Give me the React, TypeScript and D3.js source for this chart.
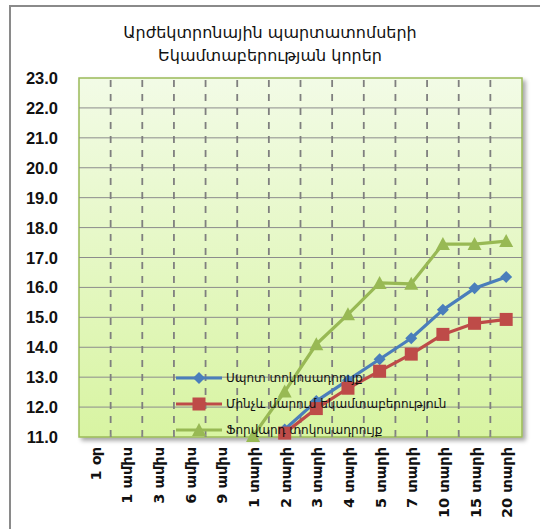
import React from "react";
import * as d3 from "d3";

const categories = ["1 օր", "1 ամիս", "3 ամիս", "6 ամիս", "9 ամիս", "1 տարի", "2 տարի", "3 տարի", "4 տարի", "5 տարի", "7 տարի", "10 տարի", "15 տարի", "20 տարի"];
const yTicks = [11, 12, 13, 14, 15, 16, 17, 18, 19, 20, 21, 22, 23];

// values below the axis minimum are not shown in the reference, so only later maturities are listed
const spot = [null, null, null, null, null, null, 11.25, 12.2, 12.9, 13.6, 14.3, 15.25, 15.97, 16.35];
const ytm = [null, null, null, null, null, null, 11.13, 11.95, 12.63, 13.2, 13.77, 14.43, 14.8, 14.93];
const forward = [null, null, null, null, null, 11.03, 12.52, 14.1, 15.1, 16.15, 16.12, 17.45, 17.45, 17.55];

const seriesNames = ["Սպոտ տոկոսադրույք", "Մինչև մարում եկամտաբերություն", "Ֆորվարդ տոկոսադրույք"];
const seriesColors = ["#4a7ebb", "#be4b48", "#98b954"];

const W = 540, H = 529;
const left = 79, right = 522, top = 78, bottom = 437;
const font = "'DejaVu Sans', sans-serif";

const Marker = ({ kind, x, y, color }) => {
  if (kind === 0) {
    const s = 6;
    return <path d={`M${x},${y - s} L${x + s},${y} L${x},${y + s} L${x - s},${y} Z`} fill={color} />;
  }
  if (kind === 1) {
    return <rect x={x - 6.5} y={y - 6.5} width={13} height={13} fill={color} />;
  }
  return <path d={`M${x},${y - 7} L${x + 7},${y + 6} L${x - 7},${y + 6} Z`} fill={color} />;
};

const App = () => {
  const x = d3.scaleBand().domain(categories).range([left, right]);
  const y = d3.scaleLinear().domain([11, 23]).range([bottom, top]);
  const allSeries = [spot, ytm, forward];

  const line = d3.line<number | null>()
    .defined(d => d !== null)
    .x((d, i) => x(categories[i])! + x.bandwidth() / 2)
    .y(d => y(d as number));

  const bounds = categories.slice(1).map(c => x(c)!);

  return (
    <svg width={W} height={H} style={{ position: "absolute", left: 0, top: 0 }}>
      <defs>
        <linearGradient id="bg" x1="0" y1="0" x2="0" y2="1">
          <stop offset="0%" stopColor="#f2fbe6" />
          <stop offset="100%" stopColor="#d8f4a2" />
        </linearGradient>
        <filter id="sh" x="-5%" y="-5%" width="115%" height="115%">
          <feDropShadow dx="3" dy="3" stdDeviation="2" floodColor="#000" floodOpacity="0.35" />
        </filter>
      </defs>
      <rect x={0} y={0} width={W} height={H} fill="#fff" />
      <path d={`M10,${H} L10,6 L${W},6`} fill="none" stroke="#8a8a8a" strokeWidth={2} />

      <text x={270} y={38} textAnchor="middle" fontFamily={font} fontSize={16} fill="#111">Արժեկտրոնային պարտատոմսերի</text>
      <text x={270} y={61} textAnchor="middle" fontFamily={font} fontSize={16} fill="#111">Եկամտաբերության  կորեր</text>

      <rect x={left} y={top} width={right - left} height={bottom - top} fill="url(#bg)" stroke="#9bbb59" strokeWidth={1.5} filter="url(#sh)" />

      {yTicks.slice(1, -1).map(t => (
        <line key={t} x1={left} x2={right} y1={y(t)} y2={y(t)} stroke="#8c8c8c" strokeWidth={1} />
      ))}
      {bounds.map((b, i) => (
        <line key={i} x1={b} x2={b} y1={top + 2} y2={bottom} stroke="#7f7f7f" strokeWidth={1.8} strokeDasharray="7,7" />
      ))}
      {bounds.map((b, i) => (
        <line key={"t" + i} x1={b} x2={b} y1={bottom - 3} y2={bottom} stroke="#8c8c8c" strokeWidth={1} />
      ))}

      {yTicks.map(t => (
        <text key={t} x={58} y={y(t) + 6} textAnchor="end" fontFamily="'Liberation Sans', Arial, sans-serif" fontWeight="bold" fontSize={16.5} fill="#111">{t.toFixed(1)}</text>
      ))}

      {categories.map(c => {
        const cx = x(c)! + x.bandwidth() / 2;
        return (
          <text key={c} transform={`translate(${cx + 6},447) rotate(-90)`} textAnchor="end" fontFamily={font} fontWeight="bold" fontSize={14.5} fill="#111">{c}</text>
        );
      })}

      {allSeries.map((s, k) => (
        <g key={k}>
          <path d={line(s)!} fill="none" stroke={seriesColors[k]} strokeWidth={3.2} strokeLinejoin="round" />
          {s.map((v, i) => v === null ? null : (
            <Marker key={i} kind={k} x={x(categories[i])! + x.bandwidth() / 2} y={y(v)} color={seriesColors[k]} />
          ))}
        </g>
      ))}

      {seriesNames.map((n, k) => {
        const ly = 378 + k * 26;
        return (
          <g key={n}>
            <line x1={176} x2={222} y1={ly} y2={ly} stroke={seriesColors[k]} strokeWidth={3.2} />
            <Marker kind={k} x={199} y={ly} color={seriesColors[k]} />
            <text x={226} y={ly + 4} fontFamily={font} fontSize={12} fill="#111">{n}</text>
          </g>
        );
      })}
    </svg>
  );
};

export default App;
